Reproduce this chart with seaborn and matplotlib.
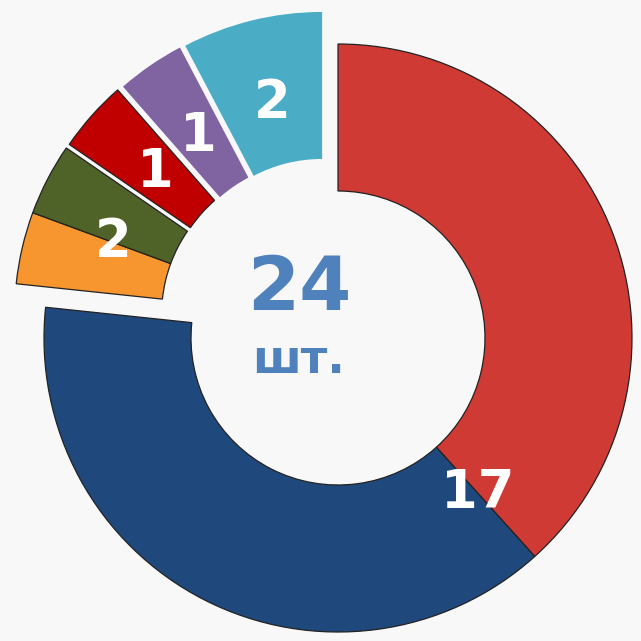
import numpy as np
import matplotlib
matplotlib.use("Agg")
import matplotlib.pyplot as plt
import seaborn as sns

# доли сегментов (в шт., по углам на картинке)
segments = ["red", "blue", "orange", "olive", "darkred", "purple", "teal"]
values = [9.2, 9.2, 0.95, 0.95, 0.95, 0.9, 1.85]
colors = ["#D03A35", "#1F497D", "#F7962F", "#4F6228", "#C00000", "#8064A2", "#4BACC6"]
edge_on = [True, True, True, True, True, False, False]

# подписи: текст и какие сегменты он покрывает
label_texts = ["17", "2", "1", "1", "2"]
label_groups = [[0, 1], [2, 3], [4], [5], [6]]

total_text = "24"
unit_text = "шт."

# смещение выдвинутых сегментов (в радиусах)
shift = {2: (-0.100, 0.080), 3: (-0.100, 0.080), 4: (-0.090, 0.092),
         5: (-0.072, 0.103), 6: (-0.054, 0.109)}

bg = "#F8F8F8"
sns.set_theme(style="white")
plt.rcParams["font.family"] = ["DejaVu Sans"]

fig = plt.figure(figsize=(6.41, 6.41), dpi=100, facecolor=bg)
ax = fig.add_axes([0, 0, 1, 1])
ax.set_facecolor(bg)

wedges, _ = ax.pie(values, colors=colors, startangle=90, counterclock=False,
                   radius=1.0, wedgeprops=dict(width=0.5, linewidth=0.9, edgecolor="#222222"))

for i, w in enumerate(wedges):
    if not edge_on[i]:
        w.set_edgecolor(colors[i])
        w.set_linewidth(0.0)
    if i in shift:
        w.set_center(shift[i])

# подписи на кольце
for text, grp in zip(label_texts, label_groups):
    t1 = min(min(wedges[i].theta1, wedges[i].theta2) for i in grp)
    t2 = max(max(wedges[i].theta1, wedges[i].theta2) for i in grp)
    ang = np.deg2rad((t1 + t2) / 2)
    cx, cy = wedges[grp[0]].center
    r = 0.71
    ax.text(cx + r * np.cos(ang), cy + r * np.sin(ang), text, color="white",
            fontsize=38, fontweight="bold", ha="center", va="center")

ax.text(-0.133, 0.095, total_text, color="#4F81BD", fontsize=54, fontweight="bold",
        ha="center", va="baseline")
ax.text(-0.136, -0.119, unit_text, color="#4F81BD", fontsize=33, fontweight="bold",
        ha="center", va="baseline")

ax.set_xlim(-338 / 294, 303 / 294)
ax.set_ylim(-303 / 294, 338 / 294)
ax.set_aspect("auto")
ax.axis("off")

fig.savefig("out.png", dpi=100, facecolor=bg)
